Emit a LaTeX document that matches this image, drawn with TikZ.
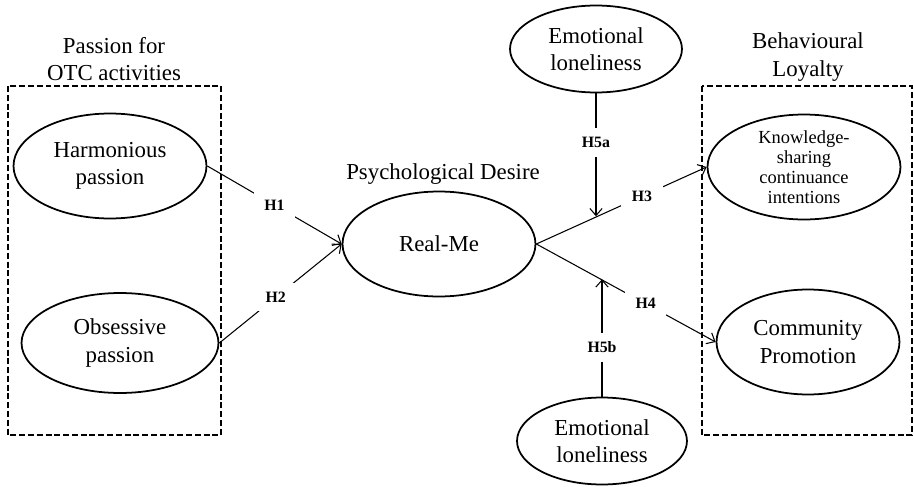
\documentclass[tikz,border=0pt]{standalone}
\usepackage{fontspec}
\setmainfont{Liberation Serif}
\usetikzlibrary{shapes.geometric,arrows.meta,calc}

\begin{document}
\begin{tikzpicture}[x=0.02cm, y=-0.02cm, >={Straight Barb[length=4pt,width=7pt]},
		font=\fontsize{13}{15.5}\selectfont,
		construct/.style={draw, ellipse, line width=1pt, inner sep=0pt, align=center},
		hyp/.style={fill=white, inner xsep=6pt, inner ysep=5pt, font=\fontsize{9}{10}\selectfont\bfseries},
		link/.style={->, line width=0.6pt},
		group/.style={line width=1.2pt, dash pattern=on 3.4pt off 1.6pt}]
		\useasboundingbox (0,0) rectangle (914,487);
		% dashed groups
		\draw[group] (8,86) rectangle (221,435);
		\draw[group] (702,86) rectangle (912,435);
		\node[align=center] (ttlpass) at (114,59) {Passion for\\OTC activities};
		\node[align=center] (ttlloy) at (808,57) {Behavioural\\Loyalty};
		\node (ttldes) at (443,174) {Psychological Desire};
		% constructs
		\node[construct, minimum width=3.86cm, minimum height=2.1cm] (harm) at (110,166) {Harmonious\\passion};
		\node[construct, minimum width=3.94cm, minimum height=2cm] (obs) at (120,343) {Obsessive\\passion};
		\node[construct, minimum width=3.86cm, minimum height=2.1cm] (realme) at (439,244) {Real-Me};
		\node[construct, minimum width=3.44cm, minimum height=1.74cm] (lonA) at (596,49) {Emotional\\loneliness};
		\node[construct, minimum width=3.4cm, minimum height=1.74cm] (lonB) at (602,441) {Emotional\\loneliness};
		\node[construct, minimum width=3.86cm, minimum height=2.1cm, font=\fontsize{10.5}{11.4}\selectfont] (know) at (804,167) {Knowledge-\\sharing\\continuance\\intentions};
		\node[construct, minimum width=3.66cm, minimum height=2.1cm] (comm) at (808,342) {Community\\Promotion};
		% paths
		\draw[link] (harm.east) -- node[hyp] {H1} (realme.west);
		\draw[link] (obs.east) -- node[hyp, pos=0.46] {H2} (realme.west);
		\draw[link] (realme.east) -- node[hyp, pos=0.62] {H3} (know.west);
		\draw[link] (realme.east) -- node[hyp, pos=0.61] {H4} (comm.west);
		\coordinate (modA) at ($(realme.east)!0.36!(know.west)$);
		\coordinate (modB) at ($(realme.east)!0.36!(comm.west)$);
		\draw[link] (lonA.south) -- node[hyp, pos=0.4] {H5a} (lonA.south |- modA);
		\draw[link] (lonB.north) -- node[hyp, pos=0.42] {H5b} (lonB.north |- modB);
	\end{tikzpicture}
\end{document}
